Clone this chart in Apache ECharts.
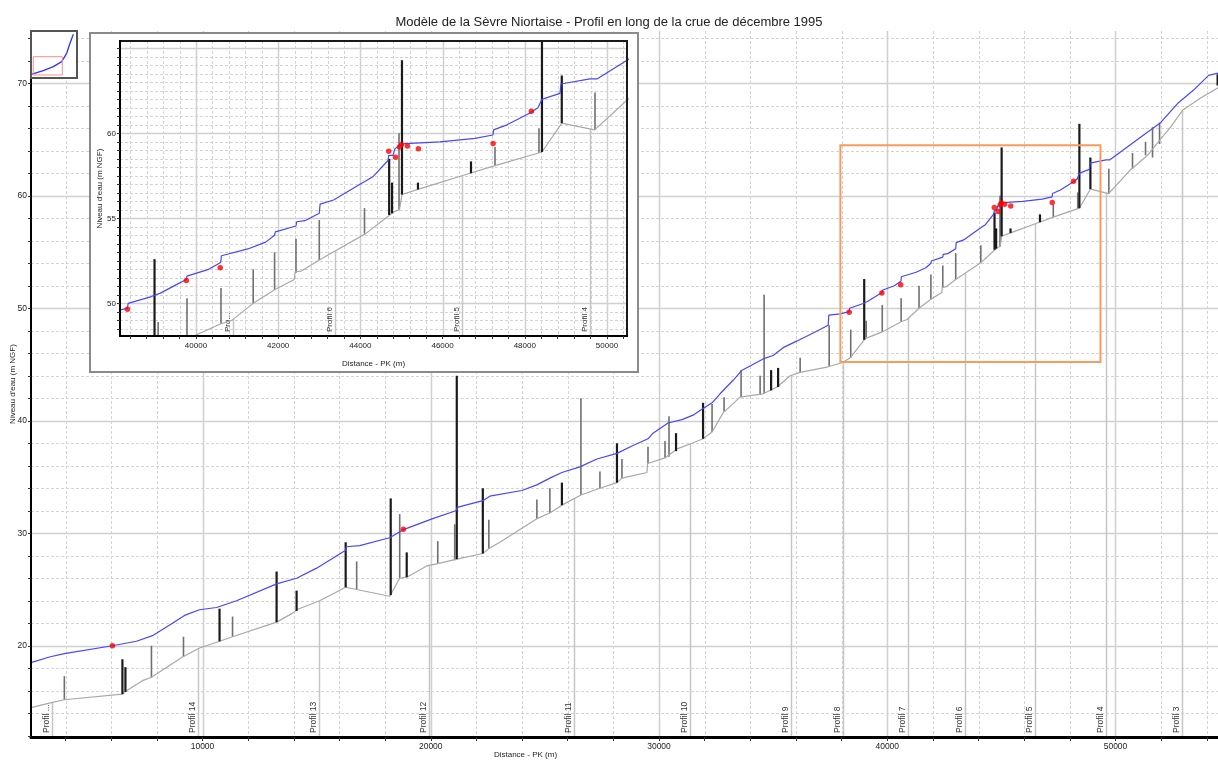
<!DOCTYPE html>
<html><head><meta charset="utf-8">
<script src="https://cdn.jsdelivr.net/npm/echarts@6/dist/echarts.min.js"></script>
<style>html,body{margin:0;padding:0;background:#fff}#c{width:1218px;height:760px}</style>
</head><body><div id="c"></div>
<script>
const titleText = 'Modèle de la Sèvre Niortaise - Profil en long de la crue de décembre 1995';
const xName = 'Distance - PK (m)';
const yName = "Niveau d'eau (m NGF)";

// water level (blue line): [PK m, level m NGF]
const waterLine = [[2486,18.5],[3289,19.0],[3947,19.3],[6053,20.0],[7105,20.4],[7807,20.9],[8684,22.0],[9211,22.7],[9868,23.2],[10614,23.4],[11491,24.0],[13246,25.5],[14123,26.0],[15000,26.9],[16272,28.5],[16300,28.8],[16886,28.9],[18202,29.6],[18772,30.3],[20088,31.3],[21100,32.0],[21160,32.3],[22281,32.9],[22588,33.3],[23991,33.8],[24649,34.3],[25219,34.9],[25746,35.4],[26535,35.9],[27281,36.6],[28158,37.1],[28860,37.8],[29518,38.4],[29737,38.9],[30395,39.8],[31009,40.1],[31491,40.5],[31930,41.1],[32325,41.6],[32675,42.4],[33246,43.6],[33640,44.5],[34561,45.5],[35000,45.8],[35439,46.5],[36053,47.1],[36754,47.8],[37412,48.5],[37440,49.4],[37939,49.5],[38330,49.7],[38350,50.0],[38915,50.4],[39134,50.6],[39523,51.1],[39766,51.4],[39780,51.6],[40307,52.0],[40600,52.4],[40620,52.8],[41262,53.2],[41696,53.6],[41912,54.0],[41930,54.2],[42433,54.55],[42450,54.8],[42652,54.86],[43000,55.3],[43020,55.84],[43348,56.08],[43990,57.0],[44307,57.45],[44672,58.4],[44690,58.7],[44793,58.7],[44842,59.1],[44964,59.3],[45085,59.4],[45937,59.5],[46788,59.7],[47226,59.9],[47240,60.2],[47567,60.5],[48127,61.2],[48321,61.5],[48418,62.0],[48540,62.1],[48856,62.35],[48880,62.9],[49586,63.2],[49757,63.2],[50487,64.3],[51096,65.2],[51974,66.5],[52719,68.2],[53421,69.4],[54079,70.7],[54491,70.9]];

// river bed (grey line)
const bedLine = [[2486,14.5],[3289,14.9],[3947,15.2],[6491,15.7],[6667,16.0],[7368,16.9],[7763,17.2],[9123,19.0],[9868,19.8],[10746,20.4],[11316,20.8],[13246,22.1],[13948,22.9],[14123,23.2],[15132,24.0],[16272,25.2],[16754,25.0],[18202,24.4],[18640,26.0],[18947,26.1],[19825,27.1],[20307,27.3],[21140,27.7],[22281,28.2],[22588,28.7],[23026,29.2],[24649,31.3],[25219,31.8],[25746,32.5],[26579,33.4],[27412,34.0],[28158,34.5],[28377,34.9],[29474,35.4],[29500,36.2],[30263,36.7],[30789,37.5],[31447,38.0],[31930,38.4],[32325,39.0],[32807,40.7],[33553,42.1],[34561,42.4],[35175,43.0],[35746,44.0],[36184,44.3],[37412,44.8],[38070,45.2],[38377,45.6],[39035,47.3],[39781,47.9],[40608,48.8],[40871,49.0],[41392,50.0],[41912,50.8],[42392,51.4],[42410,51.86],[42564,51.9],[43000,52.55],[44129,54.1],[44825,55.4],[44950,55.5],[45012,56.4],[45401,56.7],[46667,57.65],[47275,58.1],[48418,58.9],[48900,60.6],[49700,60.2],[50600,62.2],[51404,63.6],[51842,64.7],[52412,66.1],[52939,67.6],[53728,68.7],[54491,69.6]];

// structures: [PK, bottom, top]
const blackBars = [[6491,15.7,18.8],[6623,15.9,18.1],[10746,20.4,23.3],[13246,22.1,26.6],[14123,23.1,24.9],[16272,25.2,29.2],[18246,24.5,33.1],[18947,26.1,28.3],[21140,27.7,44.0],[22281,28.2,34.0],[25746,32.5,34.5],[28158,34.5,38.0],[30746,37.3,38.9],[31930,38.4,41.6],[34912,42.7,44.5],[35219,43.0,44.7],[38991,47.2,52.6],[44700,55.2,58.5],[44770,55.3,57.1],[45012,56.4,64.3],[45401,56.7,57.1],[46691,57.65,58.35],[48418,58.9,66.4],[48900,60.6,63.4],[54474,69.8,70.8]];
const greyBars = [[3947,15.2,17.3],[7763,17.2,20.0],[9167,19.0,20.8],[11316,20.8,22.6],[16754,25.0,27.5],[18640,26.0,31.7],[20307,27.3,29.3],[21050,27.6,30.8],[22544,28.6,31.2],[24649,31.3,33.0],[25219,31.8,34.0],[26579,33.4,42.0],[27412,34.0,35.5],[28377,34.9,36.6],[29518,36.2,37.7],[30263,36.7,38.2],[30439,36.8,40.4],[32325,39.0,41.5],[32851,40.8,42.1],[33596,42.1,44.5],[34430,42.3,44.0],[34605,42.4,51.2],[36184,44.3,45.6],[37456,44.8,48.5],[38400,45.6,48.1],[39079,47.4,48.9],[39781,47.9,50.3],[40608,48.8,50.9],[41392,50.0,52.0],[41912,50.8,53.0],[42433,51.8,53.8],[43000,52.55,54.9],[44100,54.1,55.6],[44940,55.5,60.0],[47275,58.1,59.2],[48345,58.85,60.3],[49708,60.2,62.4],[50746,62.4,63.8],[51316,63.6,64.8],[51623,63.4,66.1],[51930,64.6,66.5]];

// observed high-water marks (red dots)
const observed = [[6053,20.0],[18800,30.35],[38333,49.65],[39766,51.35],[40590,52.1],[44690,58.95],[44855,58.6],[44952,59.2],[45000,59.35],[45145,59.25],[45411,59.1],[47230,59.4],[48160,61.3]];

// cross-section profiles
const profileNames = ['Profil ...','Profil 14','Profil 13','Profil 12','Profil 11','Profil 10','Profil 9','Profil 8','Profil 7','Profil 6','Profil 5','Profil 4','Profil 3'];
const profilePK = [3390,9781,15101,19930,26272,31360,35776,38040,40907,43390,46480,49590,52925];

// overview thumbnail (whole river)
const overviewWater = [[156,15.3],[20461,26.7],[38382,40.5],[53327,57.6],[62287,86.2],[68258,120.5],[74226,151.4]];

// zoom window drawn on main chart: [x0, x1, y0, y1]
const zoomBox = [37947,49343,45.23,64.49];

// axis extents
const mainX = [2486,54491], mainY = [11.89,74.65];
const insetX = [38151,50487], insetY = [48.08,65.43];
const overX = [156,79010], overY = [5.03,159.3];

function steps(a,b,s){const r=[];for(let v=a; v<=b+1e-9; v+=s) r.push(+v.toFixed(4));return r;}
const mainXTicks = steps(4000,54000,2000), mainXMajor = steps(10000,50000,10000);
const mainYTicks = steps(12,74,2), mainYMajor = steps(20,70,10);
const insetXTicks = steps(38400,50400,400), insetXMajor = steps(40000,50000,2000);
const insetYTicks = steps(48.5,65,0.5), insetYMajor = steps(50,65,5), insetYLabels = steps(50,60,5);

function bedAt(x){
  for(let i=1;i<bedLine.length;i++){
    if(bedLine[i][0]>=x){const a=bedLine[i-1],b=bedLine[i];return a[1]+(b[1]-a[1])*(x-a[0])/(b[0]-a[0]);}
  }
  return bedLine[bedLine.length-1][1];
}

const FONT = '"Liberation Sans", Arial, sans-serif';
const plain = v => String(v);

function gridLines(idx, vals, dir, ref, color, width, dash, z){
  return {type:'custom', xAxisIndex:idx, yAxisIndex:idx, z, silent:true, animation:false, clip:false,
    data: vals.map(v => dir==='v' ? [v, ref] : [ref, v]),
    renderItem(params, api){
      const cs = params.coordSys;
      const p = api.coord([api.value(0), api.value(1)]);
      const shape = dir==='v'
        ? {x1:Math.round(p[0])+0.5, y1:cs.y, x2:Math.round(p[0])+0.5, y2:cs.y+cs.height}
        : {x1:cs.x, y1:Math.round(p[1])+0.5, x2:cs.x+cs.width, y2:Math.round(p[1])+0.5};
      return {type:'line', shape, style:{stroke:color, lineWidth:width, lineDash:dash}};
    }};
}
function profileSeries(idx, fontSize, z){
  return {type:'custom', xAxisIndex:idx, yAxisIndex:idx, z, silent:true, animation:false, clip:true,
    data: profilePK.map((x,i)=>[x, bedAt(x), i]),
    renderItem(params, api){
      const cs = params.coordSys;
      const top = api.coord([api.value(0), api.value(1)]);
      const px = Math.round(top[0]) + 0.5, bottom = cs.y + cs.height;
      const ty = Math.max(top[1], cs.y), len = bottom - ty;
      return {type:'group', children:[
        {type:'line', shape:{x1:px,y1:bottom,x2:px,y2:ty}, style:{stroke:'#c6c6c6', lineWidth:1.5}},
        {type:'text', x:px-1.5, y:bottom-4, rotation:Math.PI/2,
          style:{text:profileNames[api.value(2)], fill:'#333', font:fontSize+'px '+FONT, align:'left', verticalAlign:'bottom', width:len+4, overflow:'truncate', ellipsis:'...'}}
      ]};
    }};
}
function barSeries(idx, data, color, width, z){
  return {type:'custom', xAxisIndex:idx, yAxisIndex:idx, z, silent:true, animation:false, clip:true, data,
    encode:{x:0, y:[1,2]},
    renderItem(params, api){
      const a = api.coord([api.value(0), api.value(1)]), b = api.coord([api.value(0), api.value(2)]);
      return {type:'line', shape:{x1:a[0],y1:a[1],x2:b[0],y2:b[1]}, style:{stroke:color, lineWidth:width}};
    }};
}
function boxSeries(idx, box, color, width, z){
  return {type:'custom', xAxisIndex:idx, yAxisIndex:idx, z, silent:true, animation:false, clip:false, data:[box],
    encode:{x:[0,1], y:[2,3]},
    renderItem(params, api){
      const p0 = api.coord([api.value(0), api.value(3)]), p1 = api.coord([api.value(1), api.value(2)]);
      return {type:'rect', shape:{x:p0[0], y:p0[1], width:p1[0]-p0[0], height:p1[1]-p0[1]}, style:{fill:'rgba(0,0,0,0)', stroke:color, lineWidth:width}};
    }};
}
function lineSeries(idx, data, color, width, z){
  return {type:'line', xAxisIndex:idx, yAxisIndex:idx, data, showSymbol:false, symbol:'none', lineStyle:{color, width}, z, silent:true, animation:false, clip:true};
}
function dots(idx, z){
  return {type:'scatter', xAxisIndex:idx, yAxisIndex:idx, data:observed, symbolSize:5.5, itemStyle:{color:'#ff0000'}, z, silent:true, animation:false, clip:true};
}
function panelSeries(idx, X, Y, xt, xm, yt, ym, z0, fs){
  return [
    gridLines(idx, xt.filter(v=>!xm.includes(v)), 'v', Y[0], '#d4d4d4', 1, [3,2], z0),
    gridLines(idx, yt.filter(v=>!ym.includes(v)), 'h', X[0], '#d4d4d4', 1, [3,2], z0),
    gridLines(idx, xm, 'v', Y[0], '#d0d0d0', 1.5, null, z0+0.1),
    gridLines(idx, ym, 'h', X[0], '#d0d0d0', 1.5, null, z0+0.1),
    profileSeries(idx, fs, z0+1),
    barSeries(idx, greyBars, '#707070', 1.6, z0+2),
    lineSeries(idx, bedLine, '#a8a8a8', 1.2, z0+2.5),
    barSeries(idx, blackBars, '#1a1a1a', 2.2, z0+3),
    lineSeries(idx, waterLine, '#4646ff', 1.2, z0+3.5),
    dots(idx, z0+4)
  ];
}
function axisTextStyle(fs){return {fontSize:fs, color:'#222', fontFamily:FONT};}

const option = {
  animation:false,
  backgroundColor:'#fff',
  title:{text:titleText, left:'center', top:11, textStyle:{fontSize:13, fontWeight:'normal', color:'#222', fontFamily:FONT}},
  grid:[
    {left:31, top:31, right:0, bottom:23, outerBoundsMode:'none', containLabel:false},
    {left:120, top:41, width:507, height:295, show:true, borderColor:'#1a1a1a', borderWidth:2, z:16, outerBoundsMode:'none', containLabel:false},
    {left:32, top:32, width:44, height:45, outerBoundsMode:'none', containLabel:false}
  ],
  xAxis:[
    {gridIndex:0, type:'value', min:mainX[0], max:mainX[1], z:6,
      axisLine:{onZero:false, lineStyle:{color:'#000', width:3}},
      axisTick:{show:true, customValues:mainXTicks, length:4, lineStyle:{color:'#333'}},
      axisLabel:{customValues:mainXMajor, formatter:plain, margin:5, ...axisTextStyle(8.5)},
      splitLine:{show:false},
      name:xName, nameLocation:'middle', nameGap:14, nameMoveOverlap:false, nameTextStyle:{...axisTextStyle(8), padding:[0,198,0,0]}},
    {gridIndex:1, type:'value', min:insetX[0], max:insetX[1], z:17,
      axisLine:{onZero:false, lineStyle:{color:'#000', width:2}},
      axisTick:{show:true, customValues:insetXTicks, length:3, lineStyle:{color:'#333'}},
      axisLabel:{customValues:insetXMajor, formatter:plain, margin:6, ...axisTextStyle(8)},
      splitLine:{show:false},
      name:xName, nameLocation:'middle', nameGap:24, nameMoveOverlap:false, nameTextStyle:axisTextStyle(8)},
    {gridIndex:2, type:'value', min:overX[0], max:overX[1], show:false}
  ],
  yAxis:[
    {gridIndex:0, type:'value', min:mainY[0], max:mainY[1], z:6,
      axisLine:{onZero:false, lineStyle:{color:'#000', width:2}},
      axisTick:{show:true, customValues:mainYTicks, length:3, lineStyle:{color:'#333'}},
      axisLabel:{customValues:mainYMajor, formatter:plain, margin:4, ...axisTextStyle(8.5)},
      splitLine:{show:false},
      name:yName, nameLocation:'middle', nameGap:14, nameMoveOverlap:false, nameTextStyle:axisTextStyle(8)},
    {gridIndex:1, type:'value', min:insetY[0], max:insetY[1], z:17,
      axisLine:{onZero:false, lineStyle:{color:'#000', width:2}},
      axisTick:{show:true, customValues:insetYTicks, length:3, lineStyle:{color:'#333'}},
      axisLabel:{customValues:insetYLabels, formatter:plain, margin:4, ...axisTextStyle(8)},
      splitLine:{show:false},
      name:yName, nameLocation:'middle', nameGap:16, nameMoveOverlap:false, nameTextStyle:axisTextStyle(8)},
    {gridIndex:2, type:'value', min:overY[0], max:overY[1], show:false}
  ],
  graphic:[
    {type:'rect', z:10, silent:true, shape:{x:90, y:33, width:548, height:339}, style:{fill:'#fff', stroke:'#8a8a8a', lineWidth:2}},
    {type:'rect', z:20, silent:true, shape:{x:31, y:31, width:46, height:47}, style:{fill:'#fff', stroke:'#555', lineWidth:2}}
  ],
  series:[
    ...panelSeries(0, mainX, mainY, mainXTicks, mainXMajor, mainYTicks, mainYMajor, 1, 8.5),
    boxSeries(0, zoomBox, '#f79b5e', 2, 5.5),
    ...panelSeries(1, insetX, insetY, insetXTicks, insetXMajor, insetYTicks, insetYMajor, 11, 8),
    lineSeries(2, overviewWater, '#3030ff', 1.3, 21),
    boxSeries(2, [mainX[0], mainX[1], mainY[0], mainY[1]], '#ff8c8c', 1, 22)
  ]
};
const chart = echarts.init(document.getElementById('c'));
chart.setOption(option);
</script>
</body></html>
